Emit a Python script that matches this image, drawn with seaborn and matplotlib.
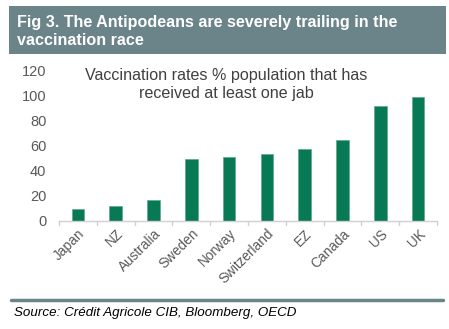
import matplotlib
matplotlib.use("Agg")
import matplotlib.pyplot as plt
import seaborn as sns
import pandas as pd
from matplotlib.patches import Rectangle
from matplotlib.lines import Line2D

countries = ["Japan", "NZ", "Australia", "Sweden", "Norway", "Switzerland", "EZ", "Canada", "US", "UK"]
rates = [9.5, 12, 17, 49.5, 50.5, 53.5, 57, 64, 91, 98.5]
yticks = [0, 20, 40, 60, 80, 100, 120]

sns.set_theme(style="white")
plt.rcParams['font.family'] = ['Liberation Sans', 'DejaVu Sans']

df = pd.DataFrame({"country": countries, "rate": rates})

fig = plt.figure(figsize=(4.49, 3.29), dpi=100)
W, H = 449, 329
ax = fig.add_axes([59 / W, 1 - 221 / H, (437 - 59) / W, (221 - 70) / H])

sns.barplot(data=df, x="country", y="rate", ax=ax, color="#077a55", width=0.33,
            saturation=1, edgecolor="#5fa88a", linewidth=0.5)

ax.set_ylim(0, 120)
ax.set_xlim(-0.5, len(countries) - 0.5)
ax.set_yticks(yticks)
ax.set_yticklabels([str(v) for v in yticks], fontsize=10.5, color="#595959")
ax.tick_params(axis="y", length=0, pad=9)
ax.set_xlabel("")
ax.set_ylabel("")
ax.set_xticks(range(len(countries)))
ax.set_xticklabels(countries, rotation=45, ha="right", rotation_mode="anchor",
                   fontsize=9.8, color="#595959")
ax.tick_params(axis="x", length=0, pad=4)
for s in ["top", "right", "left"]:
    ax.spines[s].set_visible(False)
ax.spines["bottom"].set_color("#d0d0d0")
ax.spines["bottom"].set_linewidth(1)
# minor ticks between categories
for i in range(len(countries) + 1):
    ax.plot([i - 0.5, i - 0.5], [0, -3.5], color="#d0d0d0", lw=1, clip_on=False)

ax.text(0.443, 1.01, "Vaccination rates % population that has\nreceived at least one jab",
        transform=ax.transAxes, ha="center", va="top", fontsize=11.6, color="#404040",
        linespacing=1.2)

# title banner
fig.patches.append(Rectangle((9 / W, 1 - 54 / H), (446 - 9) / W, (54 - 6) / H,
                             transform=fig.transFigure, facecolor="#6a8489",
                             edgecolor="none", zorder=0))
fig.text(17 / W, 1 - 31.5 / H, "Fig 3. The Antipodeans are severely trailing in the\nvaccination race",
         ha="left", va="center", fontsize=11.6, fontweight="bold", color="white",
         linespacing=1.22, transform=fig.transFigure)

# bottom separator
fig.lines.append(Line2D([11 / W, 443 / W], [1 - 299.5 / H, 1 - 299.5 / H],
                        transform=fig.transFigure, color="#6a8489", lw=2.5))

fig.text(14 / W, 1 - 313 / H, "Source: Crédit Agricole CIB, Bloomberg, OECD",
         ha="left", va="center", fontsize=9.6, style="italic", color="black",
         transform=fig.transFigure)

fig.savefig("out.png", dpi=100)
